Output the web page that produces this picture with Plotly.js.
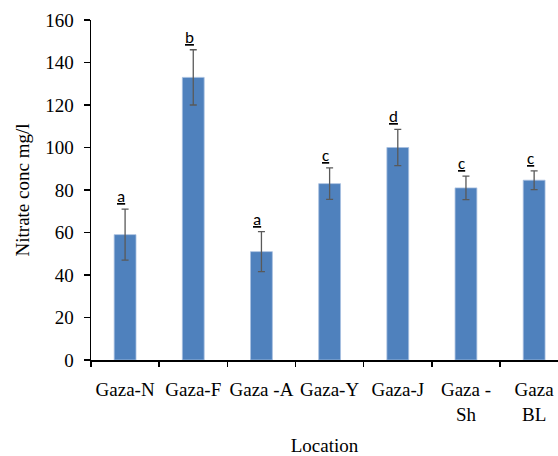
<!DOCTYPE html>
<html>
<head>
<meta charset="utf-8">
<script src="https://cdn.plot.ly/plotly-3.0.1.min.js"></script>
<style>html,body{margin:0;padding:0;background:#fff;}#chart{width:558px;height:456px;}</style>
</head>
<body>
<div id="chart"></div>
<script>
const locations = ["Gaza-N", "Gaza-F", "Gaza -A", "Gaza-Y", "Gaza-J", "Gaza -<br>Sh", "Gaza<br>BL"];
const nitrate = [59, 133, 51, 83, 100, 81, 84.6];
const errors = [12, 13, 9.4, 7.4, 8.5, 5.5, 4.4];
const letters = ["a", "b", "a", "c", "d", "c", "c"];

const trace = {
  type: "bar",
  x: locations,
  y: nitrate,
  width: 0.32,
  marker: {color: "#4F81BD", line: {color: "#a7bfe0", width: 0.8}},
  error_y: {type: "data", array: errors, visible: true, color: "#595959", thickness: 1.3, width: 3.5},
  hoverinfo: "x+y"
};

const annotations = letters.map((t, i) => ({
  x: locations[i], y: nitrate[i] + errors[i], xref: "x", yref: "y",
  text: "<u>" + t + "</u>", showarrow: false, yanchor: "bottom", xshift: -4, yshift: 0,
  font: {family: "Carlito, Liberation Sans, Arial", size: 17, color: "#000"}
}));

const serif = "Liberation Serif, Times New Roman, serif";
const layout = {
  width: 558, height: 456,
  margin: {l: 91, r: 0, t: 20, b: 96},
  paper_bgcolor: "#fff", plot_bgcolor: "#fff",
  showlegend: false,
  font: {family: serif, size: 19, color: "#000"},
  xaxis: {
    type: "category",
    range: [-0.5, 6.35],
    showline: true, linecolor: "#000", linewidth: 1.5,
    ticks: "outside", ticklen: 5, tickcolor: "#000", tickwidth: 1.5,
    tickson: "boundaries",
    tickangle: 0,
    showgrid: false, zeroline: false,
    tickfont: {family: serif, size: 19, color: "#000"},
    ticklabelstandoff: 12,
    title: {text: "Location", font: {family: serif, size: 19, color: "#000"}, standoff: 17}
  },
  yaxis: {
    range: [0, 160], dtick: 20,
    showline: true, linecolor: "#000", linewidth: 1.5,
    ticks: "outside", ticklen: 6, tickcolor: "#000", tickwidth: 1.5,
    showgrid: false, zeroline: false,
    tickfont: {family: serif, size: 19, color: "#000"},
    ticklabelstandoff: 6,
    title: {text: "Nitrate conc mg/l", font: {family: serif, size: 19, color: "#000"}, standoff: 10}
  },
  annotations: annotations
};

Plotly.newPlot("chart", [trace], layout, {displayModeBar: false, staticPlot: true});
</script>
</body>
</html>
